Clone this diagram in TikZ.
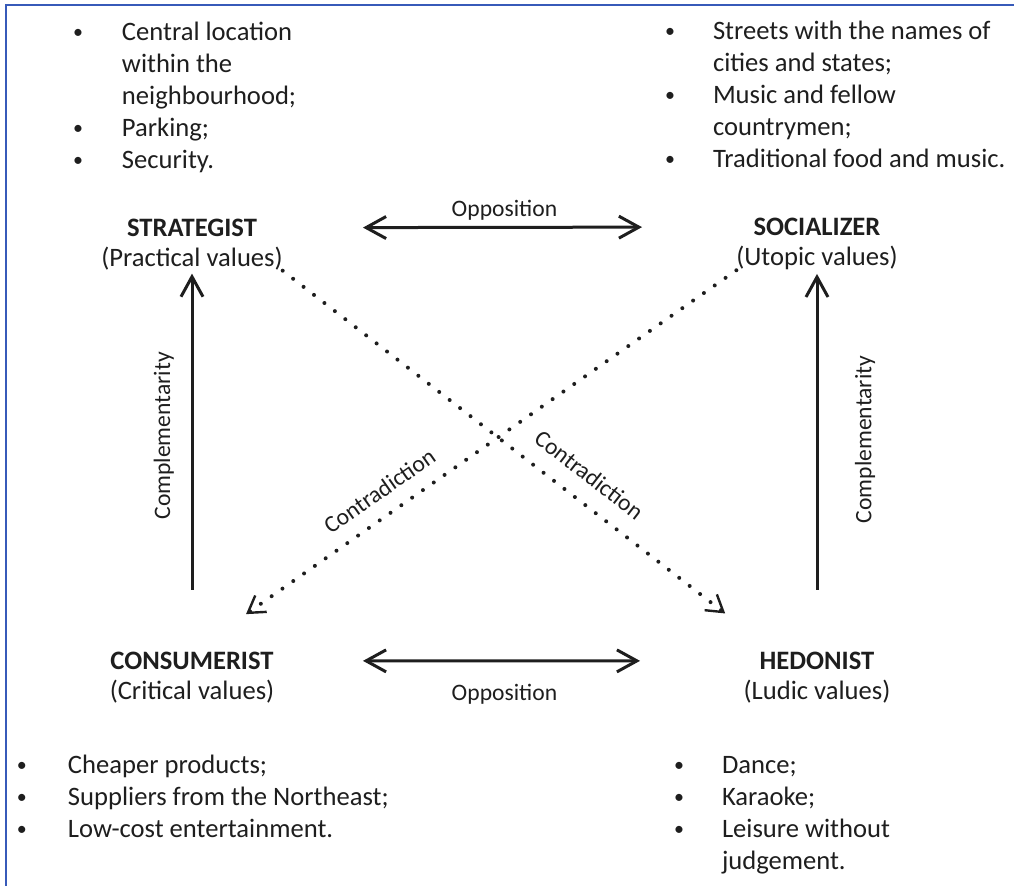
\documentclass[tikz,border=0pt]{standalone}
\usepackage{fontspec}
\setmainfont{Carlito}
\usetikzlibrary{arrows.meta}
\definecolor{frameblue}{RGB}{55,90,185}
\definecolor{ink}{RGB}{30,30,30}
\newcommand{\bigfont}{\fontsize{13.3}{16}\selectfont}
\newcommand{\smallfont}{\fontsize{11.8}{14}\selectfont}
\newcommand{\bul}{\raisebox{0.08em}{\scalebox{0.75}{\textbullet}}}

\begin{document}
\begin{tikzpicture}[
    x=0.5pt, y=-0.5pt,
    every node/.style={inner sep=0pt, outer sep=0pt, text=ink},
    title/.style={anchor=base, font=\bigfont\bfseries},
    vals/.style={anchor=base, font=\bigfont},
    list/.style={anchor=base west, font=\bigfont, align=left},
    lbl/.style={font=\smallfont},
    framebox/.style={draw=frameblue, line width=1pt},
    opp/.style={draw=ink, line width=1.5pt, {Straight Barb[length=10pt,width=11pt]}-{Straight Barb[length=10pt,width=11pt]}},
    comp/.style={draw=ink, line width=1.5pt, -{Straight Barb[length=10pt,width=11pt]}},
    contra/.style={draw=ink, line width=2pt, line cap=round, dash pattern=on 0pt off 6.6pt, -{Straight Barb[length=8pt,width=10pt,line width=1.2pt]}}
]
\useasboundingbox (0,0) rectangle (1014,886);

% Frame
\draw[framebox] (6,886) -- (6,5.5) -- (1014,5.5);

% Value lists
\node[list] (stratlist) at (73,41) {\begin{tabular}[t]{@{}p{24.5pt}@{}l@{}}
  \bul & Central location\\ & within the\\ & neighbourhood;\\
  \bul & Parking;\\ \bul & Security.\end{tabular}};
\node[list] (sociallist) at (665,40) {\begin{tabular}[t]{@{}p{24pt}@{}l@{}}
  \bul & Streets with the names of\\ & cities and states;\\
  \bul & Music and fellow\\ & countrymen;\\
  \bul & Traditional food and music.\end{tabular}};
\node[list] (consumlist) at (17,774) {\begin{tabular}[t]{@{}p{25.5pt}@{}l@{}}
  \bul & Cheaper products;\\ \bul & Suppliers from the Northeast;\\
  \bul & Low-cost entertainment.\end{tabular}};
\node[list] (hedonlist) at (674,774) {\begin{tabular}[t]{@{}p{24pt}@{}l@{}}
  \bul & Dance;\\ \bul & Karaoke;\\
  \bul & Leisure without\\ & judgement.\end{tabular}};

% Profiles
\node[title] (strat) at (192,236.5) {STRATEGIST};
\node[vals] (stratv) at (192,267) {(Practical values)};
\node[title] (social) at (817,235.5) {SOCIALIZER};
\node[vals] (socialv) at (817,266) {(Utopic values)};
\node[title] (consum) at (192,669.5) {CONSUMERIST};
\node[vals] (consumv) at (192,700) {(Critical values)};
\node[title] (hedon) at (817,669.5) {HEDONIST};
\node[vals] (hedonv) at (817,700) {(Ludic values)};

% Relations
\draw[opp, shorten <=85.5pt, shorten >=87.5pt] (strat.center) -- (social.center)
  node[lbl, midway, above=3.5pt] {Opposition};
\draw[opp, shorten <=85.5pt, shorten >=88.5pt] (consum.center) -- (hedon.center)
  node[lbl, midway, below=11.5pt] {Opposition};

\draw[comp, shorten <=35.5pt, shorten >=7.25pt] (consum.center) -- (stratv.center)
  node[lbl, pos=0.56, sloped, above=9pt] {Complementarity};
\draw[comp, shorten <=35.5pt, shorten >=7.75pt] (hedon.center) -- (socialv.center)
  node[lbl, pos=0.55, sloped, below=19pt] {Complementarity};

\draw[contra, shorten >=31.5pt] (stratv.south east) -- ([xshift=-21pt]hedon.north)
  node[lbl, pos=0.59, sloped, above=9pt] {Contradiction};
\draw[contra, shorten >=33pt] (socialv.south west) -- (consum.north)
  node[lbl, pos=0.63, sloped, above=8pt] {Contradiction};

\end{tikzpicture}
\end{document}
